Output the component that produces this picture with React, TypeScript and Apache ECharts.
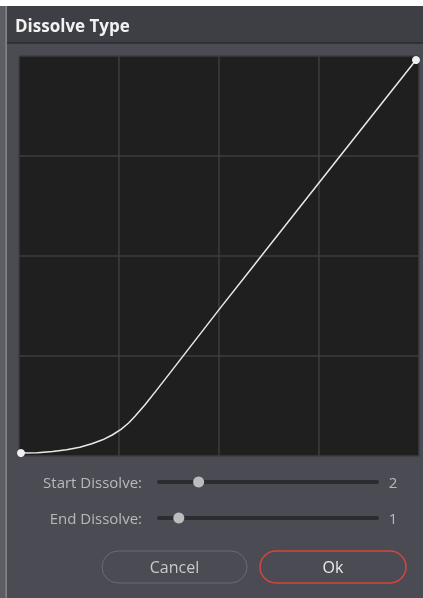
import React, { useEffect, useRef } from "react";
import * as echarts from "echarts";

// Curve (normalized 0..1 on both axes)
const curveX = [0.005, 0.046, 0.084, 0.119, 0.152, 0.182, 0.209, 0.233, 0.255, 0.274, 0.29, 0.315, 0.345, 0.38, 0.5, 0.75, 0.9925];
const curveY = [0.0075, 0.0084, 0.0112, 0.0157, 0.0221, 0.0305, 0.0405, 0.0525, 0.0665, 0.0825, 0.0995, 0.128, 0.166, 0.211, 0.366, 0.683, 0.99];

const titleText = "Dissolve Type";
const sliderLabels = ["Start Dissolve:", "End Dissolve:"];
const sliderValues = [2, 1];
const sliderMax = 11;
const buttonLabels = ["Cancel", "Ok"];

const FONT = '"Open Sans", "Noto Sans", sans-serif';

export default function App() {
  const ref = useRef<HTMLDivElement>(null);
  useEffect(() => {
    if (!ref.current) return;
    const chart = echarts.init(ref.current, undefined, { renderer: "svg" });
    const data = curveX.map((x, i) => [x, curveY[i]]);
    const last = data.length - 1;

    const trackX0 = 159;
    const trackX1 = 377;
    const sliderYs = [482, 518];

    const graphics: any[] = [
      // page backdrop
      { type: "rect", z: -10, shape: { x: 0, y: 0, width: 423, height: 598 }, style: { fill: "#ffffff" } },
      { type: "rect", z: -9, shape: { x: 0, y: 6, width: 7, height: 592 }, style: { fill: "#5d5e63" } },
      { type: "line", z: -8, shape: { x1: 6.2, y1: 6, x2: 6.2, y2: 598 }, style: { stroke: "#85868b", lineWidth: 1.5 } },
      // dialog body
      { type: "rect", z: -9, shape: { x: 7, y: 6, width: 416, height: 592 }, style: { fill: "#4a4b53" } },
      // title bar
      { type: "rect", z: -8, shape: { x: 7, y: 6, width: 416, height: 37 }, style: { fill: "#3e3f44" } },
      { type: "line", z: -7, shape: { x1: 7, y1: 43, x2: 423, y2: 43 }, style: { stroke: "#2a2b2f", lineWidth: 1.5 } },
      {
        type: "text",
        x: 15,
        y: 25,
        style: { text: titleText, fill: "#f2f2f2", font: `bold 17px ${FONT}`, verticalAlign: "middle", align: "left" },
      },
    ];

    sliderLabels.forEach((lab, i) => {
      const y = sliderYs[i];
      const tx = trackX0 + (sliderValues[i] / sliderMax) * (trackX1 - trackX0);
      graphics.push(
        { type: "text", x: 142, y, style: { text: lab, fill: "#b8b9bd", font: `15px ${FONT}`, align: "right", verticalAlign: "middle" } },
        { type: "line", shape: { x1: trackX0, y1: y, x2: trackX1, y2: y }, style: { stroke: "#2c2d31", lineWidth: 4, lineCap: "round" } },
        { type: "circle", shape: { cx: tx, cy: y, r: 5.5 }, style: { fill: "#bcbcbf" } },
        { type: "text", x: 393, y, style: { text: String(sliderValues[i]), fill: "#b8b9bd", font: `15px ${FONT}`, align: "center", verticalAlign: "middle" } }
      );
    });

    const btns = [
      { x: 102, w: 145, stroke: "#6b6c72", lw: 1, color: "#c9c9cd" },
      { x: 260, w: 146, stroke: "#d8453e", lw: 1.5, color: "#ececee" },
    ];
    btns.forEach((b, i) => {
      graphics.push(
        { type: "rect", shape: { x: b.x, y: 551, width: b.w, height: 32, r: 16 }, style: { fill: "none", stroke: b.stroke, lineWidth: b.lw } },
        { type: "text", x: b.x + b.w / 2, y: 567, style: { text: buttonLabels[i], fill: b.color, font: `16px ${FONT}`, align: "center", verticalAlign: "middle" } }
      );
    });

    chart.setOption({
      animation: false,
      backgroundColor: "transparent",
      grid: {
        left: 19,
        top: 56,
        width: 400,
        height: 400,
        show: true,
        backgroundColor: "#1f1f1f",
        borderWidth: 0,
        containLabel: false,
      },
      xAxis: {
        type: "value",
        min: 0,
        max: 1,
        interval: 0.25,
        axisLine: { show: false },
        axisTick: { show: false },
        axisLabel: { show: false },
        splitLine: { show: true, lineStyle: { color: "#3e3e3e", width: 1.5 } },
      },
      yAxis: {
        type: "value",
        min: 0,
        max: 1,
        interval: 0.25,
        axisLine: { show: false },
        axisTick: { show: false },
        axisLabel: { show: false },
        splitLine: { show: true, lineStyle: { color: "#3e3e3e", width: 1.5 } },
      },
      series: [
        {
          type: "line",
          data,
          smooth: false,
          showAllSymbol: true,
          symbol: "circle",
          symbolSize: (_v: any, p: any) => (p.dataIndex === 0 || p.dataIndex === last ? 8 : 0),
          itemStyle: { color: "#f0f0f0" },
          lineStyle: { color: "#eaeaea", width: 1.5, join: "round" },
          clip: false,
        },
      ],
      graphic: graphics,
    });
    return () => chart.dispose();
  }, []);
  return <div ref={ref} style={{ position: "fixed", left: 0, top: 0, width: 423, height: 598 }} />;
}
